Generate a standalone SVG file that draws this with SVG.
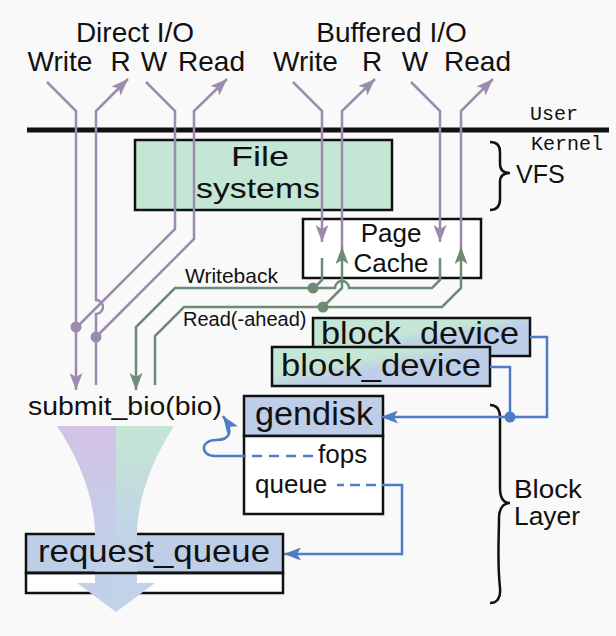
<svg xmlns="http://www.w3.org/2000/svg" width="616" height="636" viewBox="0 0 616 636">
<style>
.t{font-family:"Liberation Sans",Arial,sans-serif;fill:#111}
.m{font-family:"Liberation Mono","Courier New",monospace;fill:#111}
.box{stroke:#111;stroke-width:2.5}
.pl{fill:none;stroke:#9b8cad;stroke-width:2.5}
.gl{fill:none;stroke:#6f8a76;stroke-width:2.5}
.bl{fill:none;stroke:#4d7dc4;stroke-width:2.5}
.dash{stroke-dasharray:10 7}
.brace{fill:none;stroke:#111;stroke-width:2.5}
</style>
<defs>
<marker id="ap" markerUnits="userSpaceOnUse" markerWidth="17" markerHeight="13" viewBox="0 0 17 13" refX="17" refY="6.5" orient="auto"><path d="M0,0 L17,6.5 L0,13 L4,6.5 Z" fill="#9b8cad"/></marker>
<marker id="ag" markerUnits="userSpaceOnUse" markerWidth="17" markerHeight="13" viewBox="0 0 17 13" refX="17" refY="6.5" orient="auto"><path d="M0,0 L17,6.5 L0,13 L4,6.5 Z" fill="#6f8a76"/></marker>
<marker id="ab" markerUnits="userSpaceOnUse" markerWidth="17" markerHeight="13" viewBox="0 0 17 13" refX="17" refY="6.5" orient="auto"><path d="M0,0 L17,6.5 L0,13 L4,6.5 Z" fill="#4d7dc4"/></marker>
<linearGradient id="bd1" x1="0" y1="0" x2="1" y2="1"><stop offset="0.42" stop-color="#c4e6d4"/><stop offset="0.58" stop-color="#becee8"/></linearGradient>
<linearGradient id="bd2" x1="0" y1="0" x2="1" y2="1"><stop offset="0.36" stop-color="#c4e6d4"/><stop offset="0.54" stop-color="#becee8"/></linearGradient>
<linearGradient id="fl" gradientUnits="userSpaceOnUse" x1="0" y1="426" x2="0" y2="545"><stop offset="0" stop-color="#d2c2e6"/><stop offset="1" stop-color="#c2d0ea"/></linearGradient>
<linearGradient id="fr" gradientUnits="userSpaceOnUse" x1="0" y1="426" x2="0" y2="545"><stop offset="0" stop-color="#c4e6d4"/><stop offset="1" stop-color="#c2d2e8"/></linearGradient>
</defs>
<rect width="616" height="636" fill="#f9f9f9"/>

<g id="labels">
<text class="t" x="135" y="42" font-size="28" text-anchor="middle">Direct I/O</text>
<text class="t" x="60" y="71" font-size="28" text-anchor="middle">Write</text>
<text class="t" x="120.5" y="71" font-size="28" text-anchor="middle">R</text>
<text class="t" x="154" y="71" font-size="28" text-anchor="middle">W</text>
<text class="t" x="211.5" y="71" font-size="28" text-anchor="middle">Read</text>
<text class="t" x="391.5" y="42" font-size="28" text-anchor="middle">Buffered I/O</text>
<text class="t" x="305.5" y="71" font-size="28" text-anchor="middle">Write</text>
<text class="t" x="372" y="71" font-size="28" text-anchor="middle">R</text>
<text class="t" x="415" y="71" font-size="28" text-anchor="middle">W</text>
<text class="t" x="477.5" y="71" font-size="28" text-anchor="middle">Read</text>
<text class="m" x="530" y="120" font-size="20">User</text>
<text class="m" x="531" y="150" font-size="20">Kernel</text>
</g>

<g id="filesystems">
<rect class="box" x="135" y="140" width="257" height="70" fill="#c4e6d4"/>
<text class="t" x="260" y="166" font-size="28" text-anchor="middle" textLength="58" lengthAdjust="spacingAndGlyphs">File</text>
<text class="t" x="258" y="198" font-size="28" text-anchor="middle" textLength="124" lengthAdjust="spacingAndGlyphs">systems</text>
</g>

<g id="vfs">
<path class="brace" d="M490,142 C497,142 500,146 500,152 L500,164 C500,170 503,173 510,173 C503,173 500,176 500,182 L500,199 C500,206 497,210 490,210"/>
<text class="t" x="516" y="183" font-size="25">VFS</text>
</g>

<g id="pagecache">
<rect class="box" x="303" y="219" width="178" height="59" fill="#ffffff"/>
<text class="t" x="391" y="242" font-size="26" text-anchor="middle">Page</text>
<text class="t" x="391" y="272" font-size="26" text-anchor="middle">Cache</text>
</g>

<g id="blockdevice1">
<rect class="box" x="313" y="318" width="217" height="38" fill="url(#bd1)"/>
<text class="t" x="321" y="344" font-size="32" textLength="198" lengthAdjust="spacingAndGlyphs">block_device</text>
</g>
<g id="blockdevice2">
<rect class="box" x="272" y="347" width="218" height="39" fill="url(#bd2)"/>
<text class="t" x="281" y="376" font-size="32" textLength="200" lengthAdjust="spacingAndGlyphs">block_device</text>
</g>

<g id="gendisk">
<rect class="box" x="244" y="396" width="139" height="40" fill="#becee8"/>
<rect class="box" x="244" y="436" width="139" height="78" fill="#ffffff"/>
<text class="t" x="255" y="425" font-size="33" textLength="118" lengthAdjust="spacingAndGlyphs">gendisk</text>
<text class="t" x="318" y="463" font-size="26">fops</text>
<text class="t" x="255" y="493" font-size="26">queue</text>
</g>

<g id="submitbio">
<text class="t" x="28" y="415" font-size="26" textLength="194" lengthAdjust="spacingAndGlyphs">submit_bio(bio)</text>
</g>

<g id="requestqueue">
<rect class="box" x="26" y="534" width="257" height="39" fill="#becee8"/>
<rect class="box" x="26" y="573" width="257" height="20" fill="#ffffff"/>
</g>

<g id="funnel">
<path d="M57,426 L116,426 L116,612 L77,583 L95,583 L95,535 C95,500 80,460 57,426 Z" fill="url(#fl)"/>
<path d="M174,426 L116,426 L116,612 L155,583 L137,583 L137,535 C137,500 152,460 174,426 Z" fill="url(#fr)"/>
</g>
<g id="requestqueue-label">
<line x1="26" y1="573" x2="283" y2="573" stroke="#111" stroke-width="2.5"/>
<text class="t" x="38" y="562" font-size="32" textLength="232" lengthAdjust="spacingAndGlyphs">request_queue</text>
</g>

<g id="blocklayer">
<path class="brace" d="M490,405 C497,405 500,410 500,418 L500,488 C500,497 503,503 510,503 C503,503 499,509 499,518 C499,540 497,560 500,588 C501,598 497,603 490,603"/>
<text class="t" x="514" y="498" font-size="25" textLength="68" lengthAdjust="spacingAndGlyphs">Block</text>
<text class="t" x="514" y="525" font-size="25" textLength="66" lengthAdjust="spacingAndGlyphs">Layer</text>
</g>

<g id="connectors">
<line x1="27" y1="130" x2="609" y2="130" stroke="#111" stroke-width="5"/>
<path class="pl" d="M47,82 L76,111 L76,390" marker-end="url(#ap)"/>
<path class="pl" d="M96,385 L96,314 A7,7 0 0 0 96,300 L96,111 L128,79" marker-end="url(#ap)"/>
<path class="pl" d="M146,82 L175,111 L175,229 L76,328"/>
<path class="pl" d="M96,337 L194,239 L194,111 L227,79" marker-end="url(#ap)"/>
<circle cx="76" cy="327" r="5.5" fill="#9b8cad"/>
<circle cx="96" cy="337" r="5.5" fill="#9b8cad"/>
<path class="pl" d="M293,82 L322,111 L322,242" marker-end="url(#ap)"/>
<path class="pl" d="M342,247 L342,111 L375,79" marker-end="url(#ap)"/>
<path class="pl" d="M411,82 L440,111 L440,242" marker-end="url(#ap)"/>
<path class="pl" d="M461,247 L461,111 L493,79" marker-end="url(#ap)"/>
<path class="gl" d="M440,258 L440,280 L432,288 L349,288 A7,7 0 0 0 335,288 L175,288 L136,327 L136,390" marker-end="url(#ag)"/>
<path class="gl" d="M322,258 L322,280 L314,288"/>
<circle cx="313" cy="288" r="5.5" fill="#6f8a76"/>
<text class="t" x="185" y="283" font-size="21">Writeback</text>
<path class="gl" d="M155,385 L155,336 L184,307 L442,307 L461,288 L461,247" marker-end="url(#ag)"/>
<path class="gl" d="M323,307 L342,288 L342,247" marker-end="url(#ag)"/>
<circle cx="323" cy="307" r="5.5" fill="#6f8a76"/>
<text class="t" x="183" y="326" font-size="20">Read(-ahead)</text>
<path class="bl" d="M530,337 L547,337 L547,417 L381,417" marker-end="url(#ab)"/>
<path class="bl" d="M490,367 L510,367 L510,417"/>
<circle cx="510" cy="417" r="5.5" fill="#4d7dc4"/>
<path class="bl dash" d="M313,456 L246,456"/>
<path class="bl" d="M246,456 L215,456 C200,456 200,440 216,440 C230,440 234,432 223,416" marker-end="url(#ab)"/>
<path class="bl" d="M382,485 L337,485" style="stroke-dasharray:10 6;stroke-dashoffset:10"/>
<path class="bl" d="M382,485 L402,485 L402,554 L284,554" marker-end="url(#ab)"/>
</g>
</svg>
